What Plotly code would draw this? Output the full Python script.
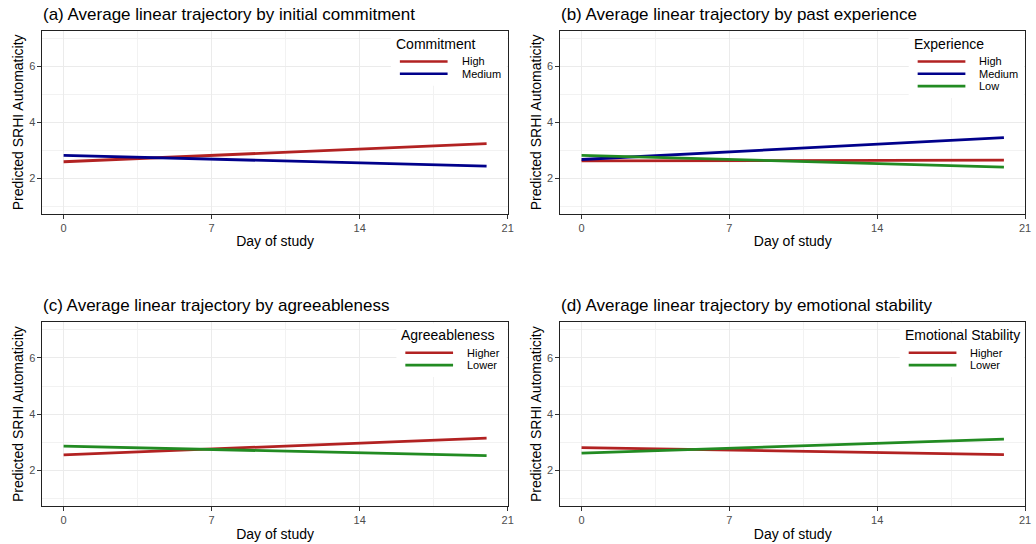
import plotly.graph_objects as go

# ---------------- data ----------------
days = [0, 20]

commit_labels = ["High", "Medium"]
commit_high = [2.59, 3.24]
commit_medium = [2.82, 2.43]

exper_labels = ["High", "Medium", "Low"]
exper_high = [2.62, 2.65]
exper_medium = [2.67, 3.45]
exper_low = [2.82, 2.40]

agree_labels = ["Higher", "Lower"]
agree_higher = [2.55, 3.15]
agree_lower = [2.86, 2.52]

emot_labels = ["Higher", "Lower"]
emot_higher = [2.81, 2.56]
emot_lower = [2.61, 3.11]

x_ticks = [0, 7, 14, 21]
y_ticks = [2, 4, 6]

RED = "#B22222"
BLUE = "#00008B"
GREEN = "#228B22"

W, H = 1036, 544
FONT = "Liberation Sans, Arial, Helvetica, sans-serif"

def px(x):
    return x / W

def py(y):
    return 1 - y / H

# panel pixel boxes (left, top, right, bottom)
panels = [
    dict(box=(42.7, 31.0, 510.7, 213.7), title="(a) Average linear trajectory by initial commitment",
         leg_title="Commitment", labels=commit_labels, series=[commit_high, commit_medium],
         colors=[RED, BLUE], leg_w=117.5),
    dict(box=(563.7, 31.0, 1031.0, 213.7), title="(b) Average linear trajectory by past experience",
         leg_title="Experience", labels=exper_labels, series=[exper_high, exper_medium, exper_low],
         colors=[RED, BLUE, GREEN], leg_w=117.0),
    dict(box=(42.7, 322.3, 510.7, 506.0), title="(c) Average linear trajectory by agreeableness",
         leg_title="Agreeableness", labels=agree_labels, series=[agree_higher, agree_lower],
         colors=[RED, GREEN], leg_w=112.0),
    dict(box=(563.7, 322.3, 1031.0, 506.0), title="(d) Average linear trajectory by emotional stability",
         leg_title="Emotional Stability", labels=emot_labels, series=[emot_higher, emot_lower],
         colors=[RED, GREEN], leg_w=126.0),
]

fig = go.Figure()
shapes = []
annotations = []

for i, p in enumerate(panels):
    n = "" if i == 0 else str(i + 1)
    xa, ya = "x" + n, "y" + n
    l, t, r, b = p["box"]
    for lab, vals, col in zip(p["labels"], p["series"], p["colors"]):
        fig.add_trace(go.Scatter(x=days, y=vals, mode="lines", name=lab,
                                 line=dict(color=col, width=2.8),
                                 xaxis=xa, yaxis=ya, showlegend=False,
                                 hoverinfo="x+y+name"))
    axis_common = dict(showline=True, mirror=True, linecolor="#222222", linewidth=1,
                       ticks="outside", ticklen=4, tickcolor="#333333", tickwidth=1,
                       tickfont=dict(size=11, color="#4D4D4D", family=FONT),
                       showgrid=True, gridcolor="#EBEBEB", gridwidth=1,
                       zeroline=False)
    fig.layout["xaxis" + n] = dict(
        axis_common, domain=[px(l), px(r)], range=[-1, 21], tickvals=x_ticks,
        anchor=ya,
        minor=dict(tickvals=[3.5, 10.5, 17.5], showgrid=True, gridcolor="#F2F2F2", gridwidth=0.8, ticks=""),
        title=dict(text="Day of study", font=dict(size=14, color="black", family=FONT), standoff=3),
    )
    fig.layout["yaxis" + n] = dict(
        axis_common, domain=[py(b), py(t)], range=[0.73, 7.27], tickvals=y_ticks,
        anchor=xa,
        minor=dict(tickvals=[1, 3, 5, 7], showgrid=True, gridcolor="#F2F2F2", gridwidth=0.8, ticks=""),
        title=dict(text="Predicted SRHI Automaticity", font=dict(size=14, color="black", family=FONT), standoff=2),
    )
    # panel title
    annotations.append(dict(text=p["title"], x=px(l - 1.5), y=py(t - 16.5), xref="paper", yref="paper",
                            xanchor="left", yanchor="middle", showarrow=False,
                            font=dict(size=17, color="black", family=FONT)))
    # manual legend (ggplot style, inside top-right)
    nitems = len(p["labels"])
    L = r - p["leg_w"]
    box_bottom = t + 30.5 + 12.3 * (nitems - 1) + 12
    shapes.append(dict(type="rect", xref="paper", yref="paper", x0=px(L), x1=px(r - 1), y0=py(box_bottom),
                       y1=py(t + 1), fillcolor="white", line=dict(width=0), layer="above"))
    annotations.append(dict(text=p["leg_title"], x=px(L + 3), y=py(t + 12.5), xref="paper", yref="paper",
                            xanchor="left", yanchor="middle", showarrow=False,
                            font=dict(size=14, color="black", family=FONT)))
    for k, (lab, col) in enumerate(zip(p["labels"], p["colors"])):
        yy = t + 30.5 + 12.3 * k
        shapes.append(dict(type="line", xref="paper", yref="paper", x0=px(L + 9), x1=px(L + 57),
                           y0=py(yy), y1=py(yy), line=dict(color=col, width=2.6), layer="above"))
        annotations.append(dict(text=lab, x=px(L + 69), y=py(yy), xref="paper", yref="paper",
                                xanchor="left", yanchor="middle", showarrow=False,
                                font=dict(size=11, color="black", family=FONT)))

fig.update_layout(
    width=W, height=H, margin=dict(l=0, r=0, t=0, b=0),
    paper_bgcolor="white", plot_bgcolor="white",
    font=dict(family=FONT, color="black"),
    shapes=shapes, annotations=annotations, showlegend=False,
)

fig.write_html("out.html", config={"displayModeBar": False},
               post_script="document.body.style.margin='0';document.body.style.overflow='hidden';")
